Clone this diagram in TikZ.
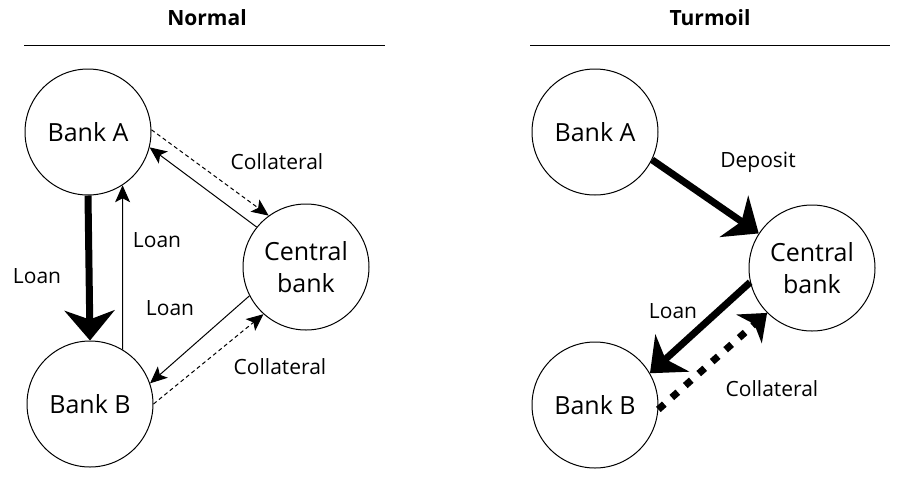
\documentclass[tikz,border=0pt]{standalone}
\usepackage{fontspec}
\setmainfont{Open Sans}
\usetikzlibrary{arrows.meta,positioning}
\tikzset{
	bank/.style={draw, circle, line width=0.5pt, minimum size=63pt, inner sep=0pt,
		align=center, font=\fontsize{12.5}{16}\selectfont},
	lab/.style={font=\fontsize{10.5}{12}\selectfont},
	hd/.style={font=\fontsize{10.5}{12}\selectfont\bfseries},
	flow/.style={-{Stealth[length=8.5pt,width=7.5pt,inset=2pt]}, line width=0.5pt},
	bigflow/.style={-{Stealth[length=15pt,width=25pt,inset=4.5pt]}, line width=3.5pt},
	coll/.style={flow, dash pattern=on 2pt off 1.5pt},
	bigcoll/.style={-{Stealth[length=12pt,width=19pt,inset=3.5pt]}, line width=3.5pt,
		dash pattern=on 4pt off 5pt}
}

\begin{document}
\begin{tikzpicture}[x=0.5pt, y=-0.5pt]
	\useasboundingbox (0,0) rectangle (906,483);
	
	% Normal
	\node[hd] (tN) at (207,18) {Normal};
	\coordinate (rNl) at (24,45);
	\coordinate (rNr) at (385,45);
	\draw[line width=0.5pt] (rNl) -- (rNr);
	
	\node[bank] (nA) at (88,132) {Bank A};
	\node[bank] (nB) at (90,404) {Bank B};
	\node[bank] (nC) at (306,267) {Central\\bank};
	
	\draw[bigflow] (nA.-90) -- (nB.90);
	\draw[flow] (nB.59) -- (nA.-57);
	\draw[flow] (nC.141) -- (nA.-14);
	\draw[coll] (nA.2) -- (nC.126);
	\draw[flow] (nC.207) -- (nB.19);
	\draw[coll] (nB.0) -- (nC.228);
	
	\node[lab] (lN1) at (37,276) {Loan};
	\node[lab] (lN2) at (157,240) {Loan};
	\node[lab] (lN3) at (277,162) {Collateral};
	\node[lab] (lN4) at (170,308) {Loan};
	\node[lab] (lN5) at (280,367) {Collateral};
	
	% Turmoil
	\node[hd] (tT) at (710,18) {Turmoil};
	\coordinate (rTl) at (530,45);
	\coordinate (rTr) at (890,45);
	\draw[line width=0.5pt] (rTl) -- (rTr);
	
	\node[bank] (tA) at (595,132) {Bank A};
	\node[bank] (tB) at (595,405) {Bank B};
	\node[bank] (tC) at (812,268) {Central\\bank};
	
	\draw[bigflow] (tA.-26) -- (tC.147);
	\draw[bigflow] (tC.193) -- (tB.30);
	\draw[bigcoll] (tB.-4) -- (tC.225);
	
	\node[lab] (lT1) at (758,162) {Deposit};
	\node[lab] (lT2) at (673,311) {Loan};
	\node[lab] (lT3) at (772,389) {Collateral};
\end{tikzpicture}
\end{document}
